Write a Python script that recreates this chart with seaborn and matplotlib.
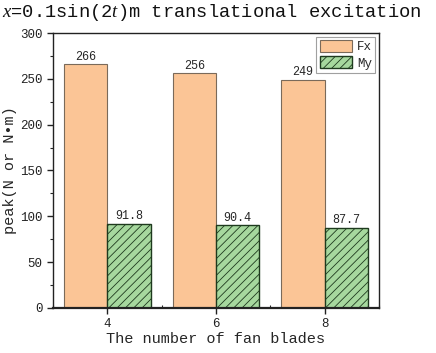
import pandas as pd
import matplotlib
matplotlib.use("Agg")
import matplotlib.pyplot as plt
from matplotlib.ticker import MultipleLocator, FixedLocator
import seaborn as sns

# data
blades = ["4", "6", "8"]
fx_peak = [266, 256, 249]
my_peak = [91.8, 90.4, 87.7]
series_names = ["Fx", "My"]

df = pd.DataFrame({
    "blades": blades * 2,
    "peak": fx_peak + my_peak,
    "series": [series_names[0]] * 3 + [series_names[1]] * 3,
})

sns.set_theme(style="ticks")
plt.rcParams["font.family"] = ["Liberation Mono", "DejaVu Sans"]
plt.rcParams["mathtext.fontset"] = "custom"
plt.rcParams["mathtext.it"] = "Liberation Serif:italic"
plt.rcParams["mathtext.rm"] = "Liberation Mono"
plt.rcParams["hatch.linewidth"] = 0.6

fig = plt.figure(figsize=(4.36, 3.53), dpi=100)
ax = fig.add_axes([0.1216, 0.1275, 0.7474, 0.779])

sns.barplot(data=df, x="blades", y="peak", hue="series",
            palette=["#fbc596", "#a6d89e"], width=0.8, dodge=True,
            saturation=1, ax=ax)

fx_edge, my_edge = "#7a6a5a", "#1e3a1e"
fx_bars, my_bars = ax.containers[0], ax.containers[1]
for p in fx_bars:
    p.set_edgecolor(fx_edge)
    p.set_linewidth(0.8)
for p in my_bars:
    p.set_edgecolor(my_edge)
    p.set_linewidth(1.0)
    p.set_hatch("////")

ax.bar_label(fx_bars, fmt="%g", padding=1, fontsize=8.5)
ax.bar_label(my_bars, fmt="%g", padding=1, fontsize=8.5)

ax.set_ylim(0, 300)
ax.set_xlim(-0.5, 2.5)
ax.yaxis.set_major_locator(MultipleLocator(50))
ax.yaxis.set_minor_locator(MultipleLocator(25))
ax.xaxis.set_minor_locator(FixedLocator([-0.5, 0.5, 1.5, 2.5]))
ax.tick_params(axis="both", which="major", direction="out", length=4,
               width=1, labelsize=9, colors="#222222")
ax.tick_params(axis="y", which="minor", direction="out", length=2.5, width=0.8)
ax.tick_params(axis="x", which="minor", direction="in", length=2.5, width=0.8)
for s in ax.spines.values():
    s.set_linewidth(1.0)
    s.set_color("#222222")
ax.spines["bottom"].set_linewidth(1.6)

ax.set_xlabel("The number of fan blades", fontsize=11, labelpad=1)
ax.set_ylabel("peak(N or N\u2022m)", fontsize=11, labelpad=2)

leg = ax.legend(loc="upper right", fontsize=9, frameon=True, fancybox=False,
                edgecolor="#888888", borderaxespad=0.3, handlelength=2.6,
                handleheight=1.1, borderpad=0.25, labelspacing=0.25,
                handletextpad=0.4, title=None)
leg.get_frame().set_linewidth(0.8)
h_fx, h_my = leg.legend_handles
h_fx.set_edgecolor(fx_edge)
h_fx.set_linewidth(0.8)
h_my.set_edgecolor(my_edge)
h_my.set_linewidth(1.0)
h_my.set_hatch("////")

fig.text(0.005, 0.995, "$x$=0.1sin(2$t$)m translational excitation",
         ha="left", va="top", fontsize=13.5, color="#111111")

fig.savefig("out.png", dpi=100)
